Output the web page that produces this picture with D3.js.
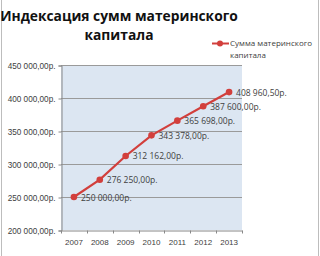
<!DOCTYPE html>
<html>
<head>
<meta charset="utf-8">
<script src="https://cdn.jsdelivr.net/npm/d3@7"></script>
<style>
  body { margin: 0; background: #fff; }
  svg { display: block; font-family: "Open Sans", "Noto Sans", sans-serif; }
</style>
</head>
<body>
<svg id="chart" width="320" height="256"></svg>
<script>
var years = ["2007", "2008", "2009", "2010", "2011", "2012", "2013"];
var amounts = [250000, 276250, 312162, 343378, 365698, 387600, 408960.5];
var yTicks = [200000, 250000, 300000, 350000, 400000, 450000];
var seriesName = "Сумма материнского капитала";

var svg = d3.select("#chart");

// рамка
svg.append("rect")
  .attr("x", 1.5).attr("y", -2)
  .attr("width", 317).attr("height", 260)
  .attr("fill", "none")
  .attr("stroke", "#bdbdbd");

var plot = { left: 61, right: 242, top: 65, bottom: 230 };

var x = d3.scaleBand().domain(years).range([plot.left, plot.right]);
var y = d3.scaleLinear().domain([200000, 450000]).range([plot.bottom, plot.top]);

// фон области построения
svg.append("rect")
  .attr("x", plot.left).attr("y", plot.top)
  .attr("width", plot.right - plot.left).attr("height", plot.bottom - plot.top)
  .attr("fill", "#dce6f2");

// сетка
svg.append("g")
  .selectAll("line")
  .data(yTicks.slice(1))
  .enter()
  .append("line")
  .attr("x1", plot.left).attr("x2", plot.right)
  .attr("y1", function(d) { return Math.round(y(d)) + 0.5; })
  .attr("y2", function(d) { return Math.round(y(d)) + 0.5; })
  .attr("stroke", "#9a9a9a");

function money(v) {
  var parts = v.toFixed(2).split(".");
  var intPart = parts[0].replace(/\B(?=(\d{3})+(?!\d))/g, " ");
  return intPart + "," + parts[1] + "р.";
}

// ось Y
var yAxis = d3.axisLeft(y)
  .tickValues(yTicks)
  .tickSize(3)
  .tickPadding(3)
  .tickFormat(money);
var gy = svg.append("g")
  .attr("transform", "translate(" + (plot.left + 0.5) + ",0.5)")
  .call(yAxis);
gy.select(".domain").attr("stroke", "#888");
gy.selectAll(".tick line").attr("stroke", "#888");
gy.selectAll(".tick text")
  .attr("fill", "#404040")
  .style("font-size", "8.2px");

// ось X
var xAxis = d3.axisBottom(x).tickSize(0).tickPadding(9);
var gx = svg.append("g")
  .attr("transform", "translate(0," + (plot.bottom + 0.5) + ")")
  .call(xAxis);
gx.select(".domain").attr("stroke", "#888");
gx.selectAll(".tick text")
  .attr("fill", "#404040")
  .style("font-size", "8px");
gx.selectAll(".sep")
  .data(years.concat(["end"]))
  .enter()
  .append("line")
  .attr("class", "sep")
  .attr("x1", function(d, i) { return Math.round(plot.left + i * x.step()) + 0.5; })
  .attr("x2", function(d, i) { return Math.round(plot.left + i * x.step()) + 0.5; })
  .attr("y1", 0).attr("y2", 3)
  .attr("stroke", "#888");

// линия
var color = "#d23f3c";
var line = d3.line()
  .x(function(d, i) { return x(years[i]) + x.bandwidth() / 2; })
  .y(function(d) { return y(d); });

svg.append("path")
  .datum(amounts)
  .attr("d", line)
  .attr("fill", "none")
  .attr("stroke", color)
  .attr("stroke-width", 2.2);

svg.append("g")
  .selectAll("circle")
  .data(amounts)
  .enter()
  .append("circle")
  .attr("cx", function(d, i) { return x(years[i]) + x.bandwidth() / 2; })
  .attr("cy", function(d) { return y(d); })
  .attr("r", 3.3)
  .attr("fill", color);

// подписи данных
svg.append("g")
  .selectAll("text")
  .data(amounts)
  .enter()
  .append("text")
  .attr("x", function(d, i) { return x(years[i]) + x.bandwidth() / 2 + 7; })
  .attr("y", function(d) { return y(d) + 3.5; })
  .attr("fill", "#404040")
  .style("font-size", "8.5px")
  .text(money);

// заголовок
var title = svg.append("text")
  .attr("text-anchor", "middle")
  .attr("font-weight", "bold")
  .attr("fill", "#111")
  .style("font-size", "13.8px");
title.append("tspan").attr("x", 119).attr("y", 21).text("Индексация сумм материнского");
title.append("tspan").attr("x", 119).attr("y", 40).text("капитала");

// легенда
var legend = svg.append("g");
legend.append("line")
  .attr("x1", 212).attr("x2", 229)
  .attr("y1", 43.5).attr("y2", 43.5)
  .attr("stroke", color).attr("stroke-width", 2);
legend.append("circle")
  .attr("cx", 220).attr("cy", 43.5).attr("r", 3)
  .attr("fill", color);
var legText = legend.append("text")
  .attr("fill", "#404040")
  .style("font-size", "8px");
legText.append("tspan").attr("x", 230).attr("y", 46).text("Сумма материнского");
legText.append("tspan").attr("x", 230).attr("y", 58).text("капитала");
</script>
</body>
</html>
